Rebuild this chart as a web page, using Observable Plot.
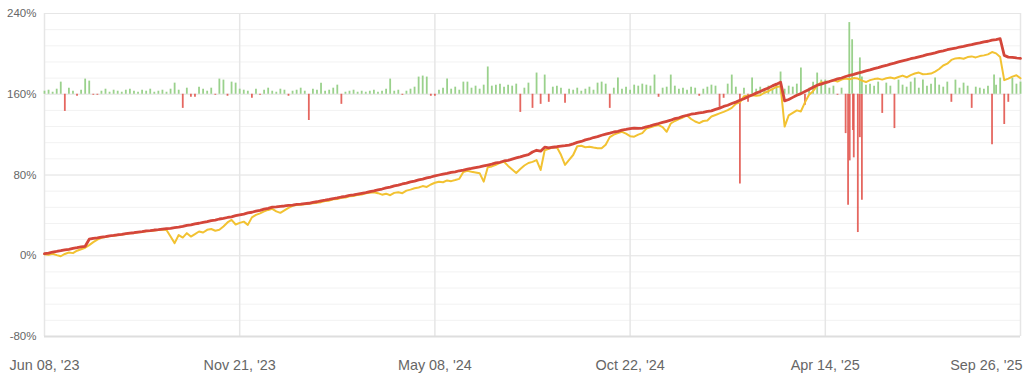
<!DOCTYPE html>
<html>
<head>
<meta charset="utf-8">
<script src="https://cdn.jsdelivr.net/npm/d3@7"></script>
<script src="https://cdn.jsdelivr.net/npm/@observablehq/plot@0.6"></script>
<style>
  html, body { margin: 0; padding: 0; background: #fff; overflow: hidden; }
  #chart svg { display: block; overflow: hidden; }
</style>
</head>
<body>
<div id="chart"></div>
<script>
// X tick positions (sample index) and their labels
const xTickIndex = [0, 48, 96, 144, 192, 240];
const xTickLabels = ["Jun 08, '23", "Nov 21, '23", "May 08, '24", "Oct 22, '24", "Apr 14, '25", "Sep 26, '25"];
const yTicks = [-80, 0, 80, 160, 240];
const yMinorStep = 16;

// Balance (red line), % growth
const balance = [
  2.0, 2.6, 3.7, 4.3, 5.0, 5.9, 6.4, 7.3, 8.0, 8.8, 9.4,
  16.4, 17.3, 17.8, 18.5, 19.0, 19.7, 20.1, 20.8, 21.2, 21.9, 22.4, 22.8, 23.5, 24.0,
  24.6, 24.9, 25.5, 25.8, 26.4, 26.9, 27.2, 27.9, 28.3,
  29.0, 30.0, 30.6, 31.6, 32.2, 33.1, 33.8, 34.8, 35.4, 36.4, 37.0, 37.9, 38.6, 39.7, 40.5,
  41.3, 42.4, 43.1, 44.2, 45.0, 46.1, 47.0, 48.1,
  48.4, 49.0, 49.3, 49.9, 50.2, 50.8, 51.1, 51.6, 52.0,
  52.9, 53.5, 54.4, 55.0, 55.8, 56.7, 57.3, 58.2, 58.8, 59.7, 60.3, 61.1, 61.9, 62.6, 63.5, 64.2, 65.2,
  66.1, 67.3, 68.0, 69.2, 70.0, 71.1, 72.0, 73.2, 73.9, 75.1, 76.0, 77.2, 78.0, 79.1, 80.0,
  80.9, 81.6, 82.6, 83.2, 84.2, 84.9, 85.8, 86.5, 87.4, 88.1, 89.1, 89.9,
  90.7, 92.0, 92.6, 93.9, 94.5, 95.8, 96.9, 98.0,
  99.2, 100.1, 102.8, 104.5, 103.6, 107.6, 106.8, 107.5, 108.0, 108.6, 109.0, 109.6,
  110.9, 112.3, 113.2, 114.8, 115.7, 117.1, 118.0, 119.4, 120.5, 121.5,
  122.6, 123.3, 124.5, 125.2, 126.0, 126.5, 126.1, 126.4,
  127.8, 128.6, 130.0, 131.0, 132.1, 133.2, 134.3,
  135.8, 136.7, 138.2, 139.1, 140.2,
  140.8, 141.6, 142.1, 143.0, 143.5,
  145.0, 146.3, 147.9, 149.1, 150.8, 152.2, 154.0,
  155.6, 157.5, 159.2, 161.1, 162.7, 164.6, 166.2, 168.3, 170.0, 172.0,
  153.4, 154.8, 156.9, 159.0, 160.6, 162.8, 164.7, 166.9, 169.0,
  170.1, 171.5, 172.6, 173.9, 175.2, 176.1, 177.6, 178.8,
  179.7, 181.0, 181.9, 183.2, 184.1, 185.4, 186.3, 187.6, 188.5, 189.9, 190.8, 192.0,
  193.1, 194.0, 195.2, 196.0, 197.1, 198.0, 199.2, 200.1, 201.0, 202.2, 203.0, 204.1, 205.0,
  205.6, 206.8, 207.4, 208.5, 209.1, 210.2, 210.8, 211.9, 212.5, 213.6, 214.2, 215.0,
  198.5, 196.8, 196.5, 196.0, 195.6
];

// Equity (yellow line), % growth
const equity = [
  1.5, 1.0, 2.0, 0.6, -0.5, 1.8, 3.2, 2.6, 5.0, 6.4, 7.9,
  10.5, 13.5, 16.0, 17.8, 18.6, 19.5, 19.9, 20.6, 21.0, 21.6, 22.2, 22.5, 23.2, 23.6, 24.2, 24.5, 25.1, 25.4,
  26.0, 25.5, 19.0, 12.5, 20.5, 18.0, 22.4, 19.0, 21.5, 24.0, 23.0, 25.7, 26.5, 24.8, 25.7, 29.0, 33.0, 35.5, 31.0, 32.6,
  33.8, 30.6, 38.0, 40.5, 42.0, 44.0, 45.4, 46.5, 44.0, 42.5, 45.0, 47.4, 49.5, 50.3, 50.6, 51.1, 51.5,
  52.0, 52.6, 53.1, 54.2, 54.6, 55.9, 56.1, 57.4, 57.6, 58.9, 59.2, 60.3, 60.6, 61.8, 62.4,
  63.0, 62.0, 60.5, 61.5, 60.0, 62.3, 63.0, 62.0, 64.5, 65.5, 66.8, 67.6, 69.0, 68.2, 70.6, 72.3, 73.4,
  72.8, 74.6, 73.9, 75.0, 76.2, 83.0, 84.1, 83.2, 82.5, 81.8, 73.4, 87.6, 88.5,
  90.2, 92.0, 93.1, 89.0, 85.5, 82.0, 86.0, 89.4, 91.9, 93.0, 94.8, 85.0, 104.5, 106.0, 107.2, 107.5, 100.0, 90.0, 95.0,
  99.8, 108.5, 109.0, 107.5, 108.0, 107.2, 106.5, 106.4, 110.0, 117.5,
  120.0, 121.5, 122.8, 121.0, 118.5, 118.0, 120.0, 121.5, 126.0, 127.3, 128.5, 129.4, 127.5, 122.8, 131.0,
  133.5, 135.5, 137.0, 139.0, 135.5, 133.0, 131.4, 133.5, 134.0, 138.0,
  139.5, 141.0, 142.5, 144.2, 146.5, 150.5, 152.0, 158.0, 158.5, 159.0, 158.6, 159.0, 161.5, 163.0, 165.0, 167.2, 168.0,
  128.0, 139.0, 141.5, 144.0, 143.0, 152.0, 159.5, 163.0, 168.5, 172.0, 171.0, 172.8, 173.8, 172.6, 174.5, 175.5, 174.8,
  176.0, 175.5, 173.5, 172.1, 174.0, 175.0, 175.5, 174.5, 175.8, 176.5, 175.6, 177.1, 178.5, 176.8, 179.0, 180.5, 181.5,
  179.8, 180.0, 180.5, 182.5, 185.0, 188.5, 190.3, 194.0, 195.5, 196.0, 195.2, 196.8, 197.5, 196.5, 197.8, 198.5, 199.5,
  201.8, 200.5, 196.8,
  174.0, 175.5, 177.5, 178.8, 175.8
];

// Daily profit bars (drawn around the 160% level), one per sample
const pnlBase = 160;
const pnl = [
  3, 4, 2, 5, 12, -17, 6, 3, -2, 4,
  15, 13, -1, -1, 3, 5, 2, 4, 3, 2,
  4, 5, 3, 2, 4, 3, 5, 2, 3, 4,
  2, 5, 11, 4, -14, 6, -3, -3, 7, 5,
  3, 6, -1, 15, 14, -2, 12, 11, 5, 4,
  3, -4, 5, -1, 4, 6, 3, 2, 5, 4,
  -2, 3, 4, 6, 3, -26, 5, 4, 11, 3,
  4, 6, 9, -10, 2, 3, 4, 2, 3, 2,
  3, 4, 2, 3, 5, 15, 3, 4, -1, 3,
  5, 7, 17, 18, 17, -2, -2, 4, 6, 15,
  5, 7, 4, 12, 12, 6, 8, 5, 9, 27,
  8, 9, 10, 7, 9, 8, 10, -18, 6, 11,
  -14, 21, -10, 19, -8, 7, 8, 6, -9, 5,
  4, 6, 3, 5, 7, 4, 11, 12, 10, -14,
  6, 16, 5, 7, 4, 9, 8, 10, 9, 8,
  19, -3, 6, 7, 19, 8, 5, 6, 4, 7,
  6, -2, 5, 7, 9, 8, -13, -4, 10, 19,
  7, -89, 6, -8, 16, 5, 7, 4, 8, 6,
  9, 22, 5, 8, 7, 10, 26, -11, 6, 12,
  21, 14, 14, 6, 8, -1, 6, -39, -66, -63,
  -137, -105, 9, 10, 8, 12, -19, 11, 8, -34,
  14, 9, 7, 12, 16, 6, 14, 8, 10, 16,
  9, 7, 12, -8, 14, 6, 11, 8, -14, 7,
  6, 5, 8, -50, 9, 16, -30, -8, 16, 10,
  12
];
// Extra bars on days that fall between samples (busy weeks)
const pnlExtraAt = [197.6, 197.9, 198.6, 198.8, 200.5, 200.5, 201.0, 233.5];
const pnlExtra   = [-110, 71, 54, -36, -43, 36, 17, 19];

const colors = { balance: "#d4463a", equity: "#f2c232", gain: "#8fcc7f", loss: "#e2574f" };

const series = balance.map((b, i) => ({ i, balance: b, equity: equity[i] }));
const bars = pnl.map((v, i) => ({ x: i, v }))
  .concat(pnlExtraAt.map((x, k) => ({ x, v: pnlExtra[k] })));

const yMinor = d3.range(yTicks[0], yTicks[yTicks.length - 1] + 1, yMinorStep);
const font = "Liberation Sans, Arial, Helvetica, sans-serif";
const lastTick = xTickIndex.length - 1;

const chart = Plot.plot({
  width: 1024,
  height: 380,
  marginLeft: 44,
  marginRight: 4,
  marginTop: 13,
  marginBottom: 44,
  style: { fontFamily: font, color: "#666", background: "#fff" },
  x: { domain: [0, balance.length - 1] },
  y: { domain: [yTicks[0], yTicks[yTicks.length - 1]] },
  color: { type: "identity" },
  marks: [
    Plot.gridY(yMinor, { stroke: "#f2f2f2", strokeOpacity: 1 }),
    Plot.gridY(yTicks, { stroke: "#e6e6e6", strokeOpacity: 1 }),
    Plot.gridX(xTickIndex, { stroke: "#e6e6e6", strokeOpacity: 1, strokeWidth: 1.5 }),
    Plot.ruleY([yTicks[0]], { stroke: "#dedede", strokeWidth: 2 }),
    Plot.ruleX(bars, {
      x: "x",
      y1: () => pnlBase,
      y2: d => pnlBase + d.v,
      stroke: d => d.v >= 0 ? colors.gain : colors.loss,
      strokeWidth: 1.8,
      strokeOpacity: 0.9
    }),
    Plot.line(series, { x: "i", y: "equity", stroke: colors.equity, strokeWidth: 2 }),
    Plot.line(series, { x: "i", y: "balance", stroke: colors.balance, strokeWidth: 2.8 }),
    Plot.axisY(yTicks, {
      tickFormat: d => d + "%",
      tickSize: 0,
      tickPadding: 8,
      fontSize: 11.5,
      fill: "#666"
    }),
    Plot.axisX(xTickIndex.slice(0, lastTick), {
      tickFormat: (d, i) => xTickLabels[i],
      tickSize: 0,
      tickPadding: 23,
      fontSize: 14.4,
      fill: "#666"
    }),
    Plot.axisX([xTickIndex[lastTick]], {
      tickFormat: () => xTickLabels[lastTick],
      tickSize: 0,
      tickPadding: 23,
      fontSize: 14.4,
      textAnchor: "end",
      dx: 2,
      fill: "#666"
    })
  ]
});
document.getElementById("chart").appendChild(chart);
</script>
</body>
</html>
